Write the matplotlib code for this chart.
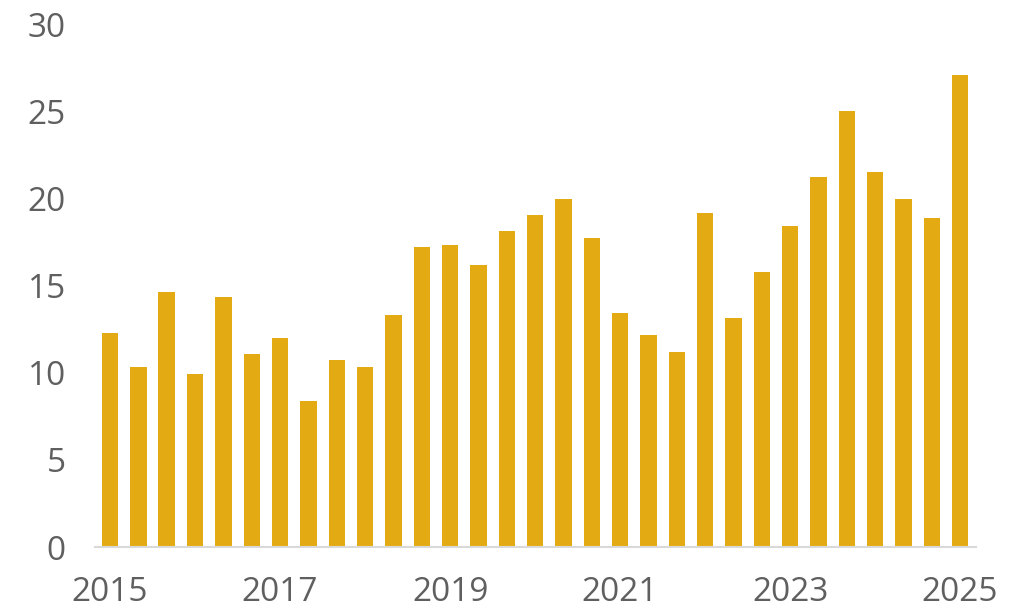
import numpy as np
import matplotlib
matplotlib.use("Agg")
from matplotlib import pyplot as plt

# triannual values, 2015 .. 2025
values = [12.3, 10.3, 14.6, 9.9, 14.35, 11.1, 12.0, 8.35, 10.7,
          10.3, 13.3, 17.2, 17.35, 16.15, 18.1, 19.05, 19.95, 17.75,
          13.45, 12.15, 11.2, 19.15, 13.15, 15.8, 18.4, 21.25, 25.0,
          21.5, 19.95, 18.9, 27.1]
tick_labels = ["2015", "2017", "2019", "2021", "2023", "2025"]
tick_every = 6

bar_color = "#E3AA13"
text_color = "#5F5F5F"

fig = plt.figure(figsize=(10.12, 6.11), dpi=100)
ax = fig.add_axes([0.0939, 0.1047, 0.8705, 0.856])

x = np.arange(len(values))
ax.bar(x, values, width=0.58, color=bar_color, zorder=2)

ax.set_xlim(-0.53, 30.56)
ax.set_ylim(0, 30)
ax.set_yticks(np.arange(0, 31, 5))
ax.set_xticks(x[::tick_every])
ax.set_xticklabels(tick_labels)

for s in ["top", "right", "left"]:
    ax.spines[s].set_visible(False)
ax.spines["bottom"].set_color("#D9D9D9")
ax.spines["bottom"].set_linewidth(1.5)

ax.tick_params(axis="both", length=0, labelsize=24, labelcolor=text_color)
ax.tick_params(axis="y", pad=21)
ax.tick_params(axis="x", pad=21)
for lbl in ax.get_xticklabels() + ax.get_yticklabels():
    lbl.set_family("Open Sans")

fig.savefig("out.png", dpi=100)
